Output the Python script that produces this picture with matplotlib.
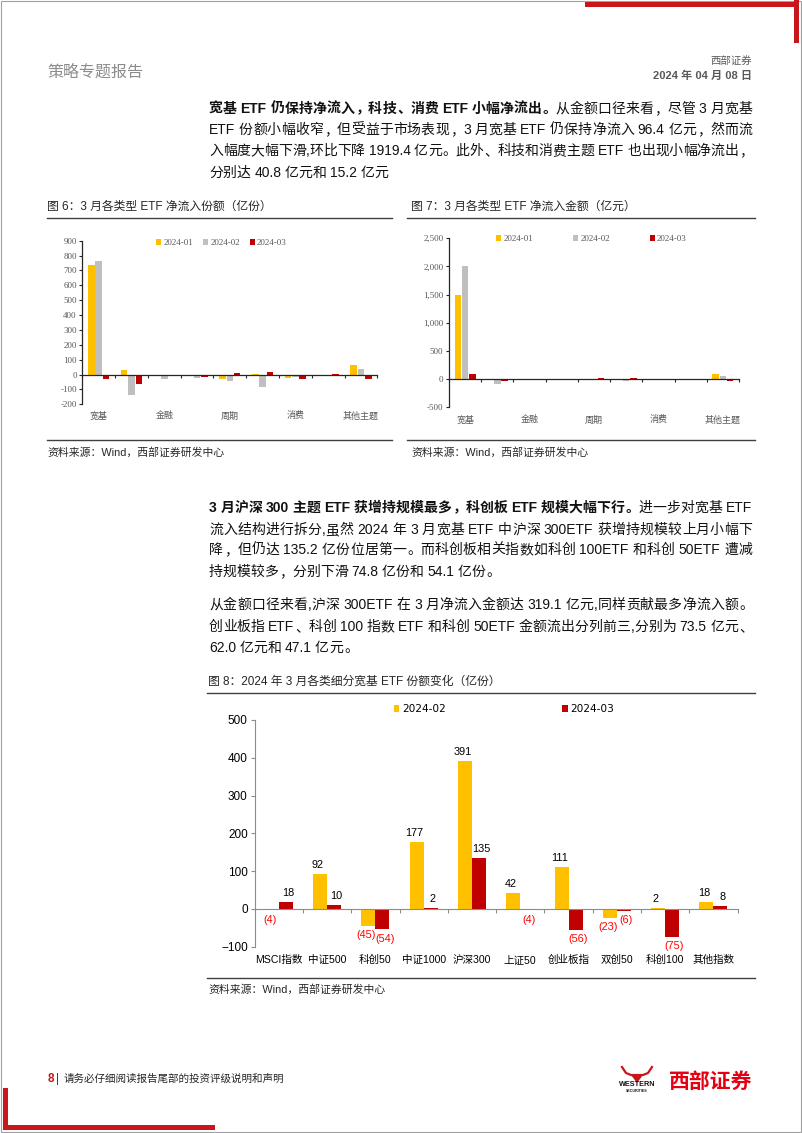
import re
import matplotlib
matplotlib.use("Agg")
import matplotlib.pyplot as plt
from matplotlib.patches import Rectangle, Polygon
from matplotlib.lines import Line2D
from matplotlib.ticker import FuncFormatter, MultipleLocator

# ---------------- data ----------------
cats6 = ['宽基', '科技', '金融', '', '周期', '', '消费', '', '其他主题']
units_jan = [735, 31, -4, -3, -31, 6, -20, 0, 65]
units_feb = [762, -139, -33, -20, -42, -83, -19, -2, 39]
units_mar = [-28, -63, -2, -16, 11, 18, -28, 4, -28]

cats7 = ['宽基', '科技', '金融', '', '周期', '', '消费', '', '其他主题']
amt_jan = [1490, 6, -3, -3, -8, -3, -3, 3, 88]
amt_feb = [2015.8, -90, -8, -3, -10, -38, -3, 2, 53]
amt_mar = [96.4, -40.8, 5, -6, 20, 18, -15.2, 6, -32]

series_names = ['2024-01', '2024-02', '2024-03']

cats8 = ['MSCI指数', '中证500', '科创50', '中证1000', '沪深300', '上证50',
         '创业板指', '双创50', '科创100', '其他指数']
share_feb = [-4, 92, -45, 177, 391, 42, 111, -23, 2, 18]
share_mar = [18, 10, -54.1, 2, 135.2, -4, -56, -6, -74.8, 8]
series8 = ['2024-02', '2024-03']

# ---------------- page setup ----------------
W, H = 802, 1133
fig = plt.figure(figsize=(W / 100, H / 100), dpi=100)
SANS = ['Liberation Sans', 'Noto Sans CJK SC']
SERIF = ['Liberation Serif', 'Noto Sans CJK SC']
CJKF = ['Noto Sans CJK SC', 'DejaVu Sans']
YEL, GRY, RED = '#FFC000', '#BFBFBF', '#C00000'
BRAND = '#C8161D'


def fx(x):
    return x / W


def fy(y):
    return 1 - y / H


def add_ax(l, t, r, b):
    return fig.add_axes([l / W, 1 - b / H, (r - l) / W, (b - t) / H])


def text(x, y, s, **kw):
    kw.setdefault('family', SANS)
    kw.setdefault('va', 'center')
    return fig.text(fx(x), fy(y), s, **kw)


def hline(x0, x1, y, color='#404040', lw=1.0):
    fig.add_artist(Line2D([fx(x0), fx(x1)], [fy(y), fy(y)], color=color, lw=lw))


def rect(x0, y0, x1, y1, color):
    fig.add_artist(Rectangle((fx(x0), fy(y1)), (x1 - x0) / W, (y1 - y0) / H,
                             facecolor=color, edgecolor='none', transform=fig.transFigure))


# page frame and decorations
fig.add_artist(Rectangle((0.0008, 0.0006), 0.9984, 0.9988, facecolor='none',
                         edgecolor='#A0A0A0', lw=0.8, transform=fig.transFigure))
rect(585, 2, 798, 7, BRAND)
rect(794, 0, 799, 43, BRAND)
rect(3, 1088, 8, 1130, BRAND)
rect(3, 1125, 215, 1130, BRAND)

text(47, 72, '策略专题报告', family=CJKF, fontsize=11.5, color='#8C8C8C')
text(752, 61, '西部证券', family=CJKF, fontsize=7.5, color='#595959', ha='right')
text(752, 76, '2024 年 04 月 08 日', fontsize=8, color='#595959', ha='right', weight='bold')

# ---------------- justified paragraphs ----------------
CJK_RE = '\u3000-\u303f\u4e00-\u9fff\uff00-\uffef'
TOK = re.compile('[' + CJK_RE + ']|\\s+|[^\\s' + CJK_RE + ']+')
renderer = fig.canvas.get_renderer()
PSIZE = 10
EM = PSIZE * 100 / 72


def draw_line(segments, y, x0=209, x1=752, justify=True):
    items = []
    for s, wt in segments:
        for m in TOK.finditer(s):
            items.append((m.group(), wt))
    widths, arts, kinds = [], [], []
    for tok, wt in items:
        if tok.isspace():
            widths.append(0.25 * EM * len(tok))
            arts.append(None)
            kinds.append('sp')
        elif re.match('[' + CJK_RE + ']', tok):
            t = fig.text(0, 0, tok, family=CJKF, fontsize=PSIZE, weight=wt,
                         va='center', ha='center', color='#111111')
            widths.append(EM)
            arts.append(t)
            kinds.append('punct' if tok in '，。、：；,' else 'cjk')
        else:
            t = fig.text(0, 0, tok, family=SANS, fontsize=PSIZE, weight=wt,
                         va='center', ha='left', color='#111111')
            widths.append(t.get_window_extent(renderer).width)
            arts.append(t)
            kinds.append('asc')
    total = sum(widths)
    gaps = max(len(items) - 1, 1)
    extra = (x1 - x0 - total) / gaps if justify else 0.0
    x = x0
    for w, a, k in zip(widths, arts, kinds):
        if a is not None:
            if k == 'cjk':
                a.set_position((fx(x + w / 2), fy(y)))
            elif k == 'punct':
                a.set_ha('left')
                a.set_position((fx(x + 0.08 * EM), fy(y)))
            else:
                a.set_position((fx(x), fy(y)))
        x += w + extra


N, B = 'normal', 'bold'
draw_line([('宽基 ETF 仍保持净流入，科技、消费 ETF 小幅净流出。', B), ('从金额口径来看，尽管 3 月宽基', N)], 109)
draw_line([('ETF 份额小幅收窄，但受益于市场表现，3 月宽基 ETF 仍保持净流入 96.4 亿元，然而流', N)], 130)
draw_line([('入幅度大幅下滑,环比下降 1919.4 亿元。此外、科技和消费主题 ETF 也出现小幅净流出，', N)], 151)
draw_line([('分别达 40.8 亿元和 15.2 亿元', N)], 173, justify=False)

draw_line([('3 月沪深 300 主题 ETF 获增持规模最多，科创板 ETF 规模大幅下行。', B), ('进一步对宽基 ETF', N)], 508)
draw_line([('流入结构进行拆分,虽然 2024 年 3 月宽基 ETF 中沪深 300ETF 获增持规模较上月小幅下', N)], 530)
draw_line([('降，但仍达 135.2 亿份位居第一。而科创板相关指数如科创 100ETF 和科创 50ETF 遭减', N)], 550)
draw_line([('持规模较多，分别下滑 74.8 亿份和 54.1 亿份。', N)], 572, justify=False)

draw_line([('从金额口径来看,沪深 300ETF 在 3 月净流入金额达 319.1 亿元,同样贡献最多净流入额。', N)], 605)
draw_line([('创业板指 ETF、科创 100 指数 ETF 和科创 50ETF 金额流出分列前三,分别为 73.5 亿元、', N)], 627)
draw_line([('62.0 亿元和 47.1 亿元。', N)], 648, justify=False)

# ---------------- figure titles / source lines ----------------
text(47, 207, '图 6：3 月各类型 ETF 净流入份额（亿份）', fontsize=8.5, color='#262626')
hline(47, 392, 217.5)
hline(47, 392, 440)
text(47, 452, '资料来源：Wind，西部证券研发中心', fontsize=7.8, color='#262626')

text(411, 207, '图 7：3 月各类型 ETF 净流入金额（亿元）', fontsize=8.5, color='#262626')
hline(407, 755, 217.5)
hline(407, 755, 440)
text(411, 452, '资料来源：Wind，西部证券研发中心', fontsize=7.8, color='#262626')

text(208, 682, '图 8：2024 年 3 月各类细分宽基 ETF 份额变化（亿份）', fontsize=8.5, color='#262626')
hline(207, 755, 692.5)
hline(207, 755, 977.5)
text(208, 989, '资料来源：Wind，西部证券研发中心', fontsize=7.8, color='#262626')


# ---------------- charts 6 & 7 ----------------
def small_chart(box, cats, data, ylim, step, fmt, leg_anchor, colspace, lab_off):
    ax = add_ax(*box)
    n = len(cats)
    xs = list(range(n))
    offs = [-0.224, 0.0, 0.224]
    for vals, off, col, name in zip(data, offs, [YEL, GRY, RED], series_names):
        ax.bar([x + off for x in xs], vals, width=0.2, color=col, label=name, zorder=2)
    ax.set_xlim(-0.5, n - 0.5)
    ax.set_ylim(*ylim)
    ax.yaxis.set_major_locator(MultipleLocator(step))
    ax.yaxis.set_major_formatter(FuncFormatter(fmt))
    for s in ['top', 'right']:
        ax.spines[s].set_visible(False)
    ax.spines['bottom'].set_position(('data', 0))
    for s in ['left', 'bottom']:
        ax.spines[s].set_color('#262626')
        ax.spines[s].set_linewidth(0.9)
    ax.set_xticks([i - 0.5 for i in range(n + 1)])
    ax.set_xticklabels([])
    ax.tick_params(axis='x', direction='out', length=2.5, width=0.8, color='#262626')
    ax.tick_params(axis='y', direction='out', length=2.5, width=0.8, color='#262626',
                   labelsize=6.5, labelcolor='#595959', pad=1.5)
    for lab in ax.get_yticklabels():
        lab.set_family(SERIF)
    for i, c in enumerate(cats):
        if i % 2 == 0:
            ax.annotate(c, xy=(i, 0), xycoords=('data', 'axes fraction'),
                        xytext=(0, -lab_off), textcoords='offset points',
                        ha='center', va='center', fontsize=6.5, color='#595959',
                        family=CJKF)
    ax.patch.set_alpha(0)
    leg = ax.legend(loc='center', bbox_to_anchor=leg_anchor, ncol=3, frameon=False,
                    fontsize=6.5, handlelength=0.55, handleheight=0.55,
                    handletextpad=0.25, columnspacing=colspace, borderaxespad=0)
    for t in leg.get_texts():
        t.set_color('#595959')
        t.set_family(SERIF)
    return ax


small_chart((82.3, 240.7, 377.3, 404.3), cats6, [units_jan, units_feb, units_mar],
            (-200, 900), 100, lambda v, p: f'{v:.0f}', (0.472, 0.986), 1.1, 8.4)
small_chart((449, 238.3, 739, 407.3), cats7, [amt_jan, amt_feb, amt_mar],
            (-500, 2500), 500, lambda v, p: f'{v:,.0f}', (0.491, 0.996), 4.4, 9.1)

# ---------------- chart 8 ----------------
ax8 = add_ax(254.7, 720, 737.5, 946.7)
n8 = len(cats8)
xs8 = list(range(n8))
bw = 0.29
b1 = ax8.bar([x - bw / 2 for x in xs8], share_feb, width=bw, color=YEL, label=series8[0], zorder=2)
b2 = ax8.bar([x + bw / 2 for x in xs8], share_mar, width=bw, color=RED, label=series8[1], zorder=2)
ax8.set_xlim(-0.5, n8 - 0.5)
ax8.set_ylim(-100, 500)
ax8.yaxis.set_major_locator(MultipleLocator(100))
for s in ['top', 'right']:
    ax8.spines[s].set_visible(False)
ax8.spines['bottom'].set_position(('data', 0))
for s in ['left', 'bottom']:
    ax8.spines[s].set_color('#8C8C8C')
    ax8.spines[s].set_linewidth(0.8)
ax8.set_xticks([i - 0.5 for i in range(n8 + 1)])
ax8.set_xticklabels([])
ax8.tick_params(axis='x', direction='out', length=3, width=0.8, color='#8C8C8C')
ax8.tick_params(axis='y', direction='out', length=3, width=0.8, color='#8C8C8C',
                labelsize=8.5, labelcolor='#000000', pad=2)
for lab in ax8.get_yticklabels():
    lab.set_family(SANS)
for i, c in enumerate(cats8):
    ax8.annotate(c, xy=(i, 0), xycoords=('data', 'axes fraction'),
                 xytext=(0, -9.6), textcoords='offset points',
                 ha='center', va='center', fontsize=7.6, color='#000000', family=SANS)


def lab_fmt(v):
    return f'({abs(v):.0f})' if v < 0 else f'{v:.0f}'


for bars, vals, dx in [(b1, share_feb, -1.6), (b2, share_mar, 1.6)]:
    texts = ax8.bar_label(bars, labels=[lab_fmt(v) for v in vals], padding=3,
                          fontsize=7.8, family=SANS)
    for t, v in zip(texts, vals):
        t.set_color('#FF0000' if v < 0 else '#000000')
        ox, oy = t.xyann
        t.xyann = (ox + dx, oy)

ax8.patch.set_alpha(0)
leg8 = ax8.legend(loc='center', bbox_to_anchor=(0.516, 1.048), ncol=2, frameon=False,
                  fontsize=7.6, handlelength=0.55, handleheight=0.55,
                  handletextpad=0.25, columnspacing=11.0, borderaxespad=0)

# ---------------- footer ----------------
text(48, 1079, '8', fontsize=8.5, color=BRAND, weight='bold')
text(56, 1079, '|', fontsize=8.5, color='#404040')
text(64, 1079, '请务必仔细阅读报告尾部的投资评级说明和声明', family=CJKF, fontsize=7.6, color='#262626')

# small bull logo
fig.add_artist(Line2D([fx(622), fx(626), fx(631), fx(643), fx(648), fx(652)],
                      [fy(1067), fy(1073), fy(1075), fy(1075), fy(1073), fy(1067)],
                      color=BRAND, lw=1.6, transform=fig.transFigure))
fig.add_artist(Polygon([(fx(631), fy(1075)), (fx(643), fy(1075)), (fx(637), fy(1083))],
                       closed=True, facecolor=BRAND, edgecolor='none', transform=fig.transFigure))
text(637, 1085, 'WESTERN', fontsize=5.2, weight='bold', color='#111111', ha='center')
text(637, 1091, 'SECURITIES', fontsize=2.6, weight='bold', color='#111111', ha='center')
text(711, 1081, '西部证券', family=CJKF, fontsize=15, weight='heavy', color='#E60012', ha='center')

fig.savefig('out.png', dpi=100)
